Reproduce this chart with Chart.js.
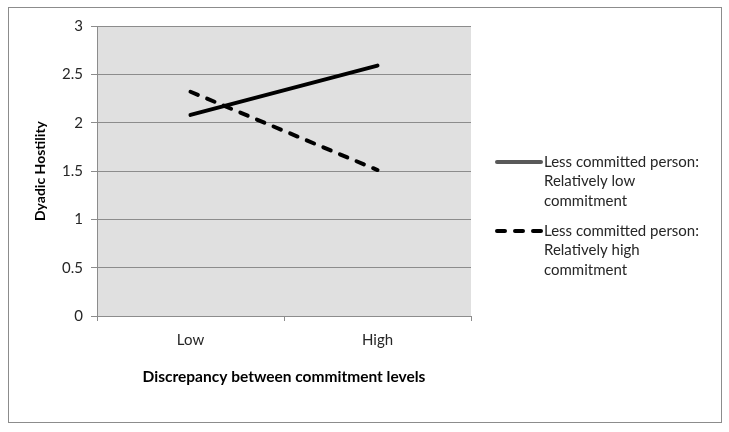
<!DOCTYPE html>
<html>
<head>
<meta charset="utf-8">
<script src="https://cdn.jsdelivr.net/npm/chart.js@4.4.0/dist/chart.umd.min.js"></script>
<style>
  html, body { margin: 0; padding: 0; background: #fff; }
  #wrap { width: 729px; height: 432px; position: relative; }
</style>
</head>
<body>
<div id="wrap"><canvas id="chart" width="729" height="432"></canvas></div>
<script>
// データ
const categories = ['Low', 'High'];
const lowCommitment = [2.08, 2.59];
const highCommitment = [2.32, 1.51];
const seriesLabels = [
    ['Less committed person:', 'Relatively low', 'commitment'],
    ['Less committed person:', 'Relatively high', 'commitment']
];
const yTicks = [0, 0.5, 1, 1.5, 2, 2.5, 3];

const FONT = 'Lato, "Open Sans", sans-serif';

// 背景・枠線・プロット領域の塗り
const framePlugin = {
    id: 'frame',
    beforeDraw(chart) {
        const ctx = chart.ctx;
        const a = chart.chartArea;
        ctx.save();
        ctx.fillStyle = '#ffffff';
        ctx.fillRect(0, 0, chart.width, chart.height);
        ctx.strokeStyle = '#8c8c8c';
        ctx.lineWidth = 1;
        ctx.strokeRect(8.5, 7.5, 713, 415);
        ctx.fillStyle = '#e0e0e0';
        ctx.fillRect(a.left, a.top, a.right - a.left, a.bottom - a.top);
        ctx.restore();
    }
};

// 凡例（複数行）
const legendPlugin = {
    id: 'multiLegend',
    afterDraw(chart) {
        const ctx = chart.ctx;
        const x0 = 497, x1 = 541, tx = 544;
        const starts = [162, 231];
        const lineH = 19.5;
        ctx.save();
        ctx.font = '15px ' + FONT;
        ctx.fillStyle = '#262626';
        ctx.textBaseline = 'middle';
        chart.data.datasets.forEach((ds, i) => {
            const y = starts[i];
            ctx.beginPath();
            ctx.strokeStyle = ds.legendColor;
            ctx.lineWidth = 4;
            ctx.lineCap = 'round';
            ctx.setLineDash(ds.borderDash || []);
            ctx.moveTo(x0, y);
            ctx.lineTo(x1, y);
            ctx.stroke();
            ctx.setLineDash([]);
            ds.legendText.forEach((t, j) => {
                ctx.fillText(t, tx, y + j * lineH);
            });
        });
        ctx.restore();
    }
};

const ctx = document.getElementById('chart').getContext('2d');
new Chart(ctx, {
    type: 'line',
    data: {
        labels: categories,
        datasets: [{
            label: seriesLabels[0].join(' '),
            legendText: seriesLabels[0],
            legendColor: '#595959',
            data: lowCommitment,
            borderColor: '#000000',
            borderWidth: 4,
            borderCapStyle: 'round',
            pointRadius: 0,
            tension: 0
        }, {
            label: seriesLabels[1].join(' '),
            legendText: seriesLabels[1],
            legendColor: '#000000',
            data: highCommitment,
            borderColor: '#000000',
            borderWidth: 4,
            borderDash: [8, 10],
            borderCapStyle: 'round',
            pointRadius: 0,
            tension: 0
        }]
    },
    options: {
        responsive: false,
        animation: false,
        layout: {
            padding: { left: 10, right: 258, top: 26, bottom: 10 }
        },
        scales: {
            x: {
                offset: true,
                grid: {
                    offset: true,
                    drawOnChartArea: false,
                    color: '#8c8c8c',
                    tickLength: 5
                },
                border: { color: '#8c8c8c' },
                ticks: {
                    color: '#262626',
                    padding: 10,
                    font: { family: FONT, size: 15 }
                },
                title: {
                    display: true,
                    text: 'Discrepancy between commitment levels',
                    color: '#000000',
                    font: { family: FONT, size: 15.5, weight: 'bold' },
                    padding: { top: 0, bottom: 36 }
                },
                afterFit(scale) { scale.height = 106; }
            },
            y: {
                min: 0,
                max: 3,
                afterBuildTicks(scale) {
                    scale.ticks = yTicks.map(v => ({ value: v }));
                },
                grid: {
                    color: '#8c8c8c',
                    tickLength: 6
                },
                border: { color: '#8c8c8c' },
                ticks: {
                    color: '#262626',
                    padding: 8,
                    font: { family: FONT, size: 15 },
                    callback: v => String(v)
                },
                title: {
                    display: true,
                    text: 'Dyadic Hostility',
                    color: '#000000',
                    font: { family: FONT, size: 14, weight: 'bold' },
                    padding: { top: 22, bottom: 0 }
                },
                afterFit(scale) { scale.width = 87; }
            }
        },
        plugins: {
            legend: { display: false },
            tooltip: { enabled: false }
        }
    },
    plugins: [framePlugin, legendPlugin]
});
</script>
</body>
</html>
